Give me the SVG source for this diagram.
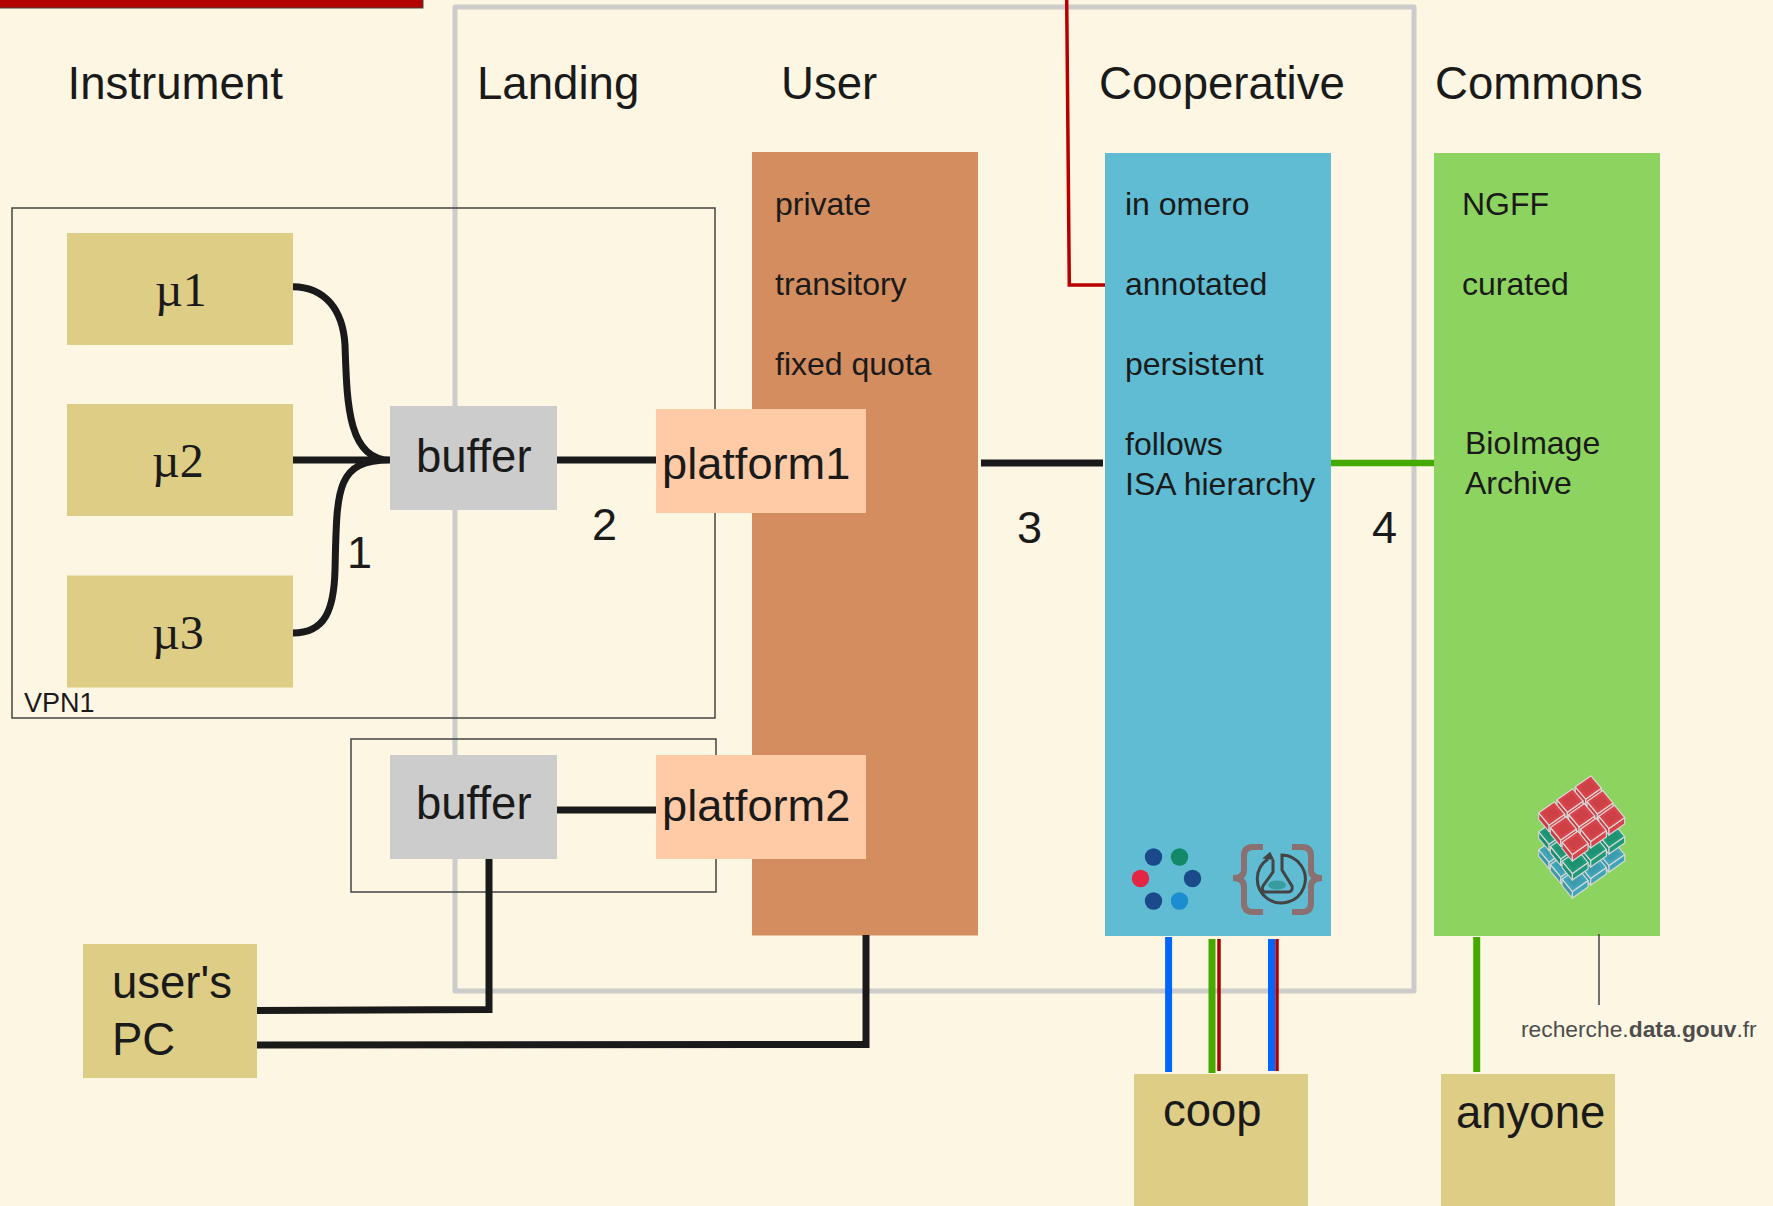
<svg xmlns="http://www.w3.org/2000/svg" width="1773" height="1206" viewBox="0 0 1773 1206">
<style>
text{font-family:"Liberation Sans",Arial,sans-serif;fill:#1a1a1a}
.h{font-size:45.600px}.n{font-size:32px}.b{font-size:45.500px}.p{font-size:45.200px}.l{font-size:45px}
.mu{font-family:"Liberation Serif","Times New Roman",serif;font-size:48px}
.c{fill:none;stroke:#1a1a1a;stroke-width:7}
.box{fill:#ddcd85}.bf{fill:#cccccc}.pf{fill:#ffcba6}
.vpn{fill:none;stroke:#444;stroke-width:1.5}
.top,.side{stroke:#d8d8d8;stroke-width:1.200;stroke-linejoin:round}
.sh{fill:#000;fill-opacity:.08;stroke:none}
.inner{fill:#000;fill-opacity:.05;stroke:none}
</style>
<defs>
<g id="k">
<polygon class="side" points="-13,-.7 -2.700,11.700 -2.700,18.200 -13,5.800"/>
<polygon class="sh" points="-13,-.7 -2.700,11.700 -2.700,18.200 -13,5.800"/>
<polygon class="side" points="-2.700,11.700 13,.7 13,7.200 -2.700,18.200"/>
<polygon class="top" points="2.700,-11.700 13,.7 -2.700,11.700 -13,-.7"/>
<polygon class="inner" points="1.700,-7 8,.5 -1.700,7 -8,-.5"/>
</g>
<g id="layer">
<use href="#k" x="1588.300" y="787.500"/><use href="#k" x="1600" y="802.200"/><use href="#k" x="1570" y="800.500"/>
<use href="#k" x="1611.700" y="816.900"/><use href="#k" x="1581.700" y="815.200"/><use href="#k" x="1551.700" y="813.500"/>
<use href="#k" x="1593.400" y="829.900"/><use href="#k" x="1563.400" y="828.200"/><use href="#k" x="1575.100" y="842.900"/>
</g>
</defs>
<rect width="1773" height="1206" fill="#fdf6e3"/>
<g id="banner"><rect x="-2" y="-2" width="425" height="10" fill="#b30000" stroke="#444" stroke-width="1"/></g>
<g id="frame"><rect x="455" y="7" width="959" height="984" fill="none" stroke="#cccccc" stroke-width="5" stroke-linejoin="round"/></g>
<g id="vpn1"><rect class="vpn" x="12" y="208" width="703" height="510"/><text x="24" y="712" font-size="27">VPN1</text></g>
<g id="vpn2"><rect class="vpn" x="351" y="739" width="365" height="153"/></g>
<g id="titles">
<text class="h" x="67.500" y="99">Instrument</text>
<text class="h" x="477" y="99">Landing</text>
<text class="h" x="781" y="99">User</text>
<text class="h" x="1099" y="99">Cooperative</text>
<text class="h" x="1435" y="99">Commons</text>
</g>
<g id="user"><rect x="752" y="152" width="226" height="783.500" fill="#d38d5f"/>
<text class="n" x="775" y="215">private</text><text class="n" x="775" y="295">transitory</text><text class="n" x="775" y="375">fixed quota</text></g>
<g id="cooperative"><rect x="1105" y="153" width="226" height="783" fill="#5fbcd3"/>
<text class="n" x="1125" y="215">in omero</text><text class="n" x="1125" y="295">annotated</text><text class="n" x="1125" y="375">persistent</text><text class="n" x="1125" y="454.500">follows</text><text class="n" x="1125" y="494.500">ISA hierarchy</text>
<g id="logo1">
<circle cx="1153.500" cy="857" r="8.700" fill="#1a4a8a"/><circle cx="1179.500" cy="857" r="8.700" fill="#128a6a"/>
<circle cx="1140.500" cy="878.500" r="8.700" fill="#e32644"/><circle cx="1192.500" cy="878.500" r="8.700" fill="#1a4a8a"/>
<circle cx="1153.500" cy="901" r="8.700" fill="#1a4a8a"/><circle cx="1179.500" cy="901" r="8.700" fill="#1c8dd0"/>
</g>
<g id="logo2" fill="none">
<path d="M1263 847H1253Q1244 847 1244 856V870Q1244 878 1233 878Q1244 878 1244 887V903Q1244 912 1253 912H1263M1292 847H1302Q1311 847 1311 856V870Q1311 878 1322 878Q1311 878 1311 887V903Q1311 912 1302 912H1292" stroke="#8a7070" stroke-width="6"/>
<path d="M1268 859A24 24 0 1 0 1282 855V870L1292 886Q1293 892 1288 892H1265Q1261 891 1263 886L1273 872V860" stroke="#444" stroke-width="3"/>
<path d="M1264 858L1270 853L1273 859Z" fill="#444" stroke="#444" stroke-width="1.500"/>
<ellipse cx="1277" cy="885" rx="9" ry="4.500" fill="#3a9ca0"/>
</g></g>
<g id="commons"><rect x="1434" y="153" width="226" height="783" fill="#8dd35f"/>
<text class="n" x="1462" y="215">NGFF</text><text class="n" x="1462" y="295">curated</text><text class="n" x="1465" y="454">BioImage</text><text class="n" x="1465" y="494">Archive</text>
<g id="cube">
<use href="#layer" y="37" fill="#3fa5b8"/>
<use href="#layer" y="19" fill="#1f9a78"/>
<use href="#layer" fill="#d9444a"/>
</g></g>
<g id="connectors">
<path class="c" d="M293 286.700C325 287 343 310 345 345C347 400 347 460 390 460M293 633C325 633 334 610 335 570C337 490 335 460 390 460M293 460H390M557 460H656"/>
<path class="c" d="M557 810H656M981 463H1103"/>
<path d="M1331 463H1434" fill="none" stroke="#44aa00" stroke-width="6.500"/>
<path class="c" d="M489 859V1009.500L257 1010.500M866 935V1044.500L257 1045"/>
<path d="M1066.700 0L1069.300 285H1105" fill="none" stroke="#b80000" stroke-width="3.500"/>
<path d="M1168.600 937V1072M1271.500 939V1071" fill="none" stroke="#0066ff" stroke-width="7"/>
<path d="M1212 939V1073M1476.700 937V1072" fill="none" stroke="#44aa00" stroke-width="7"/>
<path d="M1219 939V1071M1277 939V1071" fill="none" stroke="#aa0000" stroke-width="3.500"/>
<path d="M1599 934V1005" fill="none" stroke="#444" stroke-width="1.500"/>
</g>
<g id="mu1"><rect class="box" x="67" y="233" width="226" height="112"/><text class="mu" x="155" y="306">µ1</text></g>
<g id="mu2"><rect class="box" x="67" y="404" width="226" height="112"/><text class="mu" x="152" y="477">µ2</text></g>
<g id="mu3"><rect class="box" x="67" y="575.500" width="226" height="112"/><text class="mu" x="152" y="649">µ3</text></g>
<g id="buffer1"><rect class="bf" x="390" y="406" width="167" height="104"/><text class="b" x="416" y="472">buffer</text></g>
<g id="buffer2"><rect class="bf" x="390" y="755" width="167" height="104"/><text class="b" x="416" y="819">buffer</text></g>
<g id="platform1"><rect class="pf" x="656" y="409" width="210" height="104"/><text class="p" x="662" y="479">platform1</text></g>
<g id="platform2"><rect class="pf" x="656" y="755" width="210" height="104"/><text class="p" x="662" y="821">platform2</text></g>
<g id="pc"><rect class="box" x="83" y="944" width="174" height="134"/><text class="b" x="112" y="998">user's</text><text class="b" x="112" y="1055">PC</text></g>
<g id="coop"><rect class="box" x="1134" y="1074" width="174" height="140"/><text class="b" x="1163" y="1126">coop</text></g>
<g id="anyone"><rect class="box" x="1441" y="1074" width="174" height="140"/><text class="b" x="1456" y="1128">anyone</text></g>
<g id="labels">
<text class="l" x="347" y="568">1</text>
<text class="l" x="592" y="540">2</text>
<text class="l" x="1017" y="543">3</text>
<text class="l" x="1372" y="543">4</text>
<text x="1521" y="1037" font-size="22.800" style="fill:#4d4d4d">recherche.<tspan font-weight="bold">data</tspan>.<tspan font-weight="bold">gouv</tspan>.fr</text>
</g>
</svg>
